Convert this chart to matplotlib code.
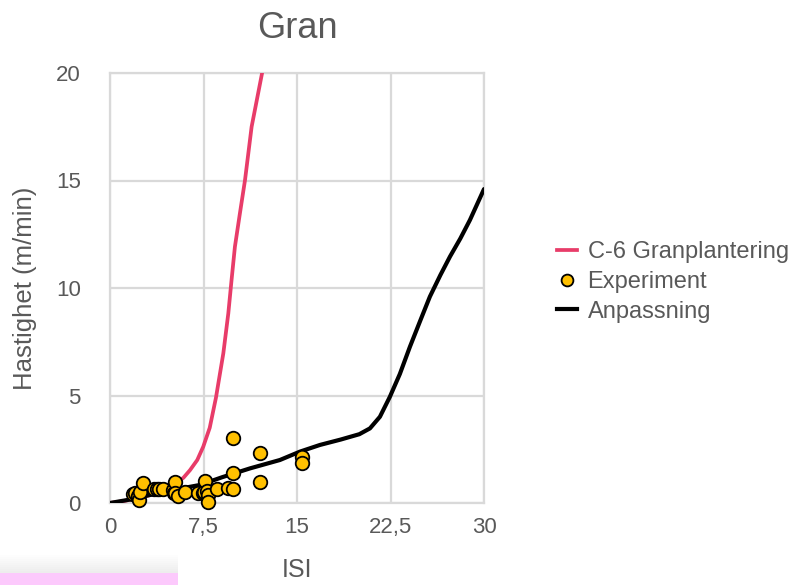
import matplotlib

matplotlib.use("Agg")
import matplotlib.pyplot as plt
from matplotlib.lines import Line2D
from matplotlib.patches import Rectangle
from matplotlib.ticker import FixedLocator, FixedFormatter

plt.rcParams["font.family"] = ["Liberation Sans", "DejaVu Sans"]

# C-6 Granplantering (fuel model curve)
red_x = [0, 1.0, 2.0, 3.2, 4.28, 5.35, 5.9, 6.42, 7.0, 7.48, 8.0, 8.5, 9.09,
         9.49, 9.75, 10.02, 10.42, 10.83, 11.36, 12.2]
red_y = [0, 0.08, 0.2, 0.37, 0.6, 0.92, 1.18, 1.53, 2.0, 2.62, 3.5, 4.9, 6.96,
         8.82, 10.37, 11.92, 13.47, 15.02, 17.5, 20.0]

# Anpassning (fitted curve)
fit_x = [0, 1.5, 3.2, 5.0, 7.22, 9.0, 11.23, 13.63, 15.24, 16.84, 18.5, 20.0,
         20.85, 21.65, 22.45, 23.25, 24.06, 24.9, 25.66, 26.5, 27.27, 28.1,
         28.87, 30.0]
fit_y = [0, 0.15, 0.37, 0.6, 0.84, 1.2, 1.61, 2.0, 2.39, 2.7, 2.95, 3.2,
         3.47, 4.01, 4.94, 6.0, 7.27, 8.5, 9.6, 10.6, 11.46, 12.3, 13.16, 14.6]

# Experiment (observations)
exp_x = [1.87, 2.0, 2.27, 2.35, 2.41, 2.62, 3.5, 3.74, 3.9, 4.28, 5.08, 5.1,
         5.2, 5.2, 5.48, 6.0, 7.08, 7.48, 7.5, 7.62, 7.8, 7.88, 7.88, 8.55,
         9.49, 9.89, 9.89, 9.89, 12.03, 12.03, 15.42, 15.42]
exp_y = [0.42, 0.45, 0.33, 0.14, 0.53, 0.95, 0.66, 0.64, 0.66, 0.64, 0.6, 0.45,
         0.97, 0.45, 0.31, 0.53, 0.45, 0.45, 0.5, 1.02, 0.55, 0.37, 0.04, 0.66,
         0.68, 0.66, 1.38, 3.01, 2.34, 0.96, 2.12, 1.85]

x_ticks = [0, 7.5, 15, 22.5, 30]
x_labels = ["0", "7,5", "15", "22,5", "30"]
y_ticks = [0, 5, 10, 15, 20]

TXT = "#595959"
GRID = "#d9d9d9"
RED = "#e83c69"
GOLD = "#ffc000"

fig = plt.figure(figsize=(7.98, 5.85), dpi=100)
ax = fig.add_axes([110 / 798, 82 / 585, 374 / 798, 430 / 585])

ax.plot(red_x, red_y, color=RED, lw=2.7, zorder=3, solid_capstyle="round")
ax.plot(fit_x, fit_y, color="black", lw=3.0, zorder=3, solid_capstyle="round")
ax.scatter(exp_x, exp_y, s=95, color=GOLD, edgecolors="black", linewidths=1.3,
           zorder=4, clip_on=False)

ax.set_xlim(0, 30)
ax.set_ylim(0, 20)
ax.xaxis.set_major_locator(FixedLocator(x_ticks))
ax.xaxis.set_major_formatter(FixedFormatter(x_labels))
ax.yaxis.set_major_locator(FixedLocator(y_ticks))
ax.grid(True, color=GRID, lw=1.6, zorder=0)
ax.set_axisbelow(True)
for sp in ax.spines.values():
    sp.set_color(GRID)
    sp.set_linewidth(1.6)
ax.tick_params(length=0, labelsize=16, colors=TXT)
ax.tick_params(axis="y", pad=21)
ax.tick_params(axis="x", pad=10)

ax.set_title("Gran", fontsize=26, color=TXT, y=(503 - 38) / 430, pad=0)
ax.set_xlabel("ISI", fontsize=18, color=TXT)
ax.set_ylabel("Hastighet (m/min)", fontsize=18.5, color=TXT)
ax.xaxis.set_label_coords(0.5, (503 - 558) / 430)
ax.yaxis.set_label_coords((37 - 110) / 374, 0.5)

handles = [
    Line2D([], [], color=RED, lw=2.7),
    Line2D([], [], ls="none", marker="o", markersize=8.5, markerfacecolor=GOLD,
           markeredgecolor="black", markeredgewidth=1.3),
    Line2D([], [], color="black", lw=3.0),
]
leg = fig.legend(handles, ["C-6 Granplantering", "Experiment", "Anpassning"],
                 loc="center left", bbox_to_anchor=(545 / 798, 1 - 282 / 585),
                 frameon=False, fontsize=17, handlelength=0.85,
                 handletextpad=0.45, labelspacing=0.32, borderpad=0)
for t in leg.get_texts():
    t.set_color(TXT)

# pink strip with soft shadow in the lower-left corner
for i in range(9):
    fig.patches.append(Rectangle((0, (12 + i * 2) / 585), 178 / 798, 2 / 585,
                                 transform=fig.transFigure, color="black",
                                 alpha=0.07 * (9 - i) / 9, lw=0))
fig.patches.append(Rectangle((0, 0), 178 / 798, 12 / 585,
                             transform=fig.transFigure, color="#fcc9fc", lw=0))

fig.savefig("out.png", dpi=100)
